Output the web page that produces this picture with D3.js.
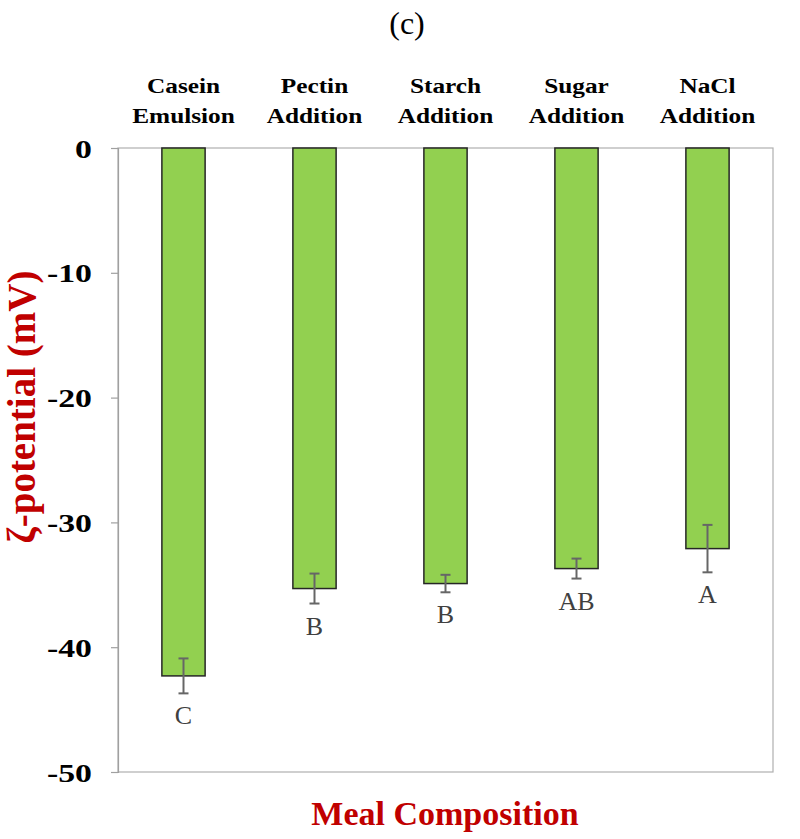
<html>
  <head>
    <style>
      body { margin: 0; background: #fff; }
      text { font-family: "Liberation Serif", "Times New Roman", serif; }
    </style>
  </head>
  <body>
    <script src="https://cdn.jsdelivr.net/npm/d3@7/dist/d3.min.js"></script>
    <script>
      // data
      var categories = [["Casein", "Emulsion"], ["Pectin", "Addition"], ["Starch", "Addition"], ["Sugar", "Addition"], ["NaCl", "Addition"]];
      var values = [-42.3, -35.3, -34.9, -33.7, -32.1];
      var errors = [1.4, 1.2, 0.7, 0.8, 1.9];
      var letters = ["C", "B", "B", "AB", "A"];
      var yTicks = [0, -10, -20, -30, -40, -50];

      var W = 800, H = 839;
      var mLeft = 118, mRight = 773, mTop = 148, mBottom = 772;

      var svg = d3.select("body").append("svg")
        .attr("width", W)
        .attr("height", H);

      var x = d3.scaleBand()
        .domain(d3.range(categories.length))
        .range([mLeft, mRight])
        .paddingInner(0.67)
        .paddingOuter(0.335);

      var y = d3.scaleLinear()
        .domain([0, -50])
        .range([mTop, mBottom]);

      // frame
      svg.append("rect")
        .attr("x", mLeft).attr("y", mTop)
        .attr("width", mRight - mLeft).attr("height", mBottom - mTop)
        .attr("fill", "none")
        .attr("stroke", "#b0b0b0")
        .attr("stroke-width", 1.2);

      // y axis, plain hyphen for the minus sign as in the figure
      var yAxis = svg.append("g")
        .attr("transform", "translate(" + mLeft + ",0)")
        .call(d3.axisLeft(y).tickValues(yTicks).tickSize(7).tickPadding(0)
          .tickFormat(function(d) { return String(d); }));
      yAxis.select(".domain").attr("stroke", "#a0a0a0").attr("stroke-width", 1.2);
      yAxis.selectAll(".tick line").attr("stroke", "#a0a0a0").attr("stroke-width", 1.2);
      yAxis.selectAll(".tick text")
        .attr("fill", "#000")
        .style("font-size", "26px")
        .style("font-weight", "bold")
        .attr("x", 0)
        .attr("dy", "0.35em")
        .attr("transform", "translate(-26,0) scale(1.3,1)");

      // bars
      svg.selectAll("rect.bar")
        .data(values)
        .enter().append("rect")
        .attr("class", "bar")
        .attr("x", function(d, i) { return x(i); })
        .attr("y", y(0))
        .attr("width", x.bandwidth())
        .attr("height", function(d) { return y(d) - y(0); })
        .attr("fill", "#92d050")
        .attr("stroke", "#262626")
        .attr("stroke-width", 1.5);

      // error bars
      var eb = svg.selectAll("g.err")
        .data(values)
        .enter().append("g")
        .attr("class", "err")
        .attr("stroke", "#666")
        .attr("stroke-width", 2);
      eb.append("line")
        .attr("x1", function(d, i) { return x(i) + x.bandwidth() / 2; })
        .attr("x2", function(d, i) { return x(i) + x.bandwidth() / 2; })
        .attr("y1", function(d, i) { return y(d + errors[i]); })
        .attr("y2", function(d, i) { return y(d - errors[i]); });
      eb.append("line")
        .attr("x1", function(d, i) { return x(i) + x.bandwidth() / 2 - 5; })
        .attr("x2", function(d, i) { return x(i) + x.bandwidth() / 2 + 5; })
        .attr("y1", function(d, i) { return y(d + errors[i]); })
        .attr("y2", function(d, i) { return y(d + errors[i]); });
      eb.append("line")
        .attr("x1", function(d, i) { return x(i) + x.bandwidth() / 2 - 5; })
        .attr("x2", function(d, i) { return x(i) + x.bandwidth() / 2 + 5; })
        .attr("y1", function(d, i) { return y(d - errors[i]); })
        .attr("y2", function(d, i) { return y(d - errors[i]); });

      // significance letters
      svg.selectAll("text.letter")
        .data(letters)
        .enter().append("text")
        .attr("class", "letter")
        .attr("text-anchor", "middle")
        .attr("x", function(d, i) { return x(i) + x.bandwidth() / 2; })
        .attr("y", function(d, i) { return y(values[i] - errors[i]) + 31; })
        .attr("fill", "#404040")
        .style("font-size", "26px")
        .text(function(d) { return d; });

      // category labels on top
      var cat = svg.selectAll("g.cat")
        .data(categories)
        .enter().append("g")
        .attr("class", "cat")
        .attr("transform", function(d, i) { return "translate(" + (x(i) + x.bandwidth() / 2) + ",0) scale(1.15,1)"; });
      cat.append("text").attr("y", 93).attr("text-anchor", "middle")
        .style("font-size", "22px").style("font-weight", "bold")
        .text(function(d) { return d[0]; });
      cat.append("text").attr("y", 123).attr("text-anchor", "middle")
        .style("font-size", "22px").style("font-weight", "bold")
        .text(function(d) { return d[1]; });

      // title
      svg.append("text")
        .attr("x", 407).attr("y", 34)
        .attr("text-anchor", "middle")
        .style("font-size", "32px")
        .text("(c)");

      // axis titles
      svg.append("text")
        .attr("transform", "translate(35,407) rotate(-90) scale(1.3,1.3)")
        .attr("text-anchor", "middle")
        .attr("fill", "#c00000")
        .style("font-size", "30px")
        .style("font-weight", "bold")
        .text("ζ-potential (mV)");

      svg.append("text")
        .attr("transform", "translate(445,825)")
        .attr("text-anchor", "middle")
        .attr("fill", "#c00000")
        .style("font-size", "34px")
        .style("font-weight", "bold")
        .text("Meal Composition");
    </script>
  </body>
</html>
